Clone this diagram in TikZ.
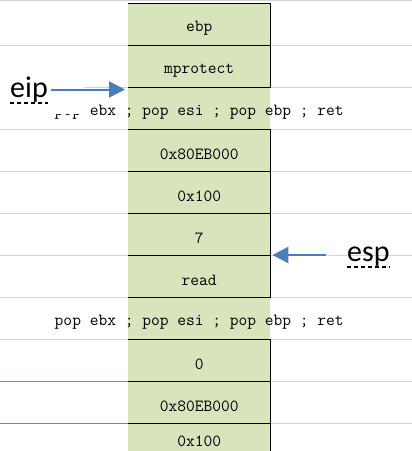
\documentclass[tikz,border=0pt]{standalone}
\usepackage{fontspec}
\usetikzlibrary{arrows.meta}
\newfontfamily\cellfont{Latin Modern Mono}
\newfontfamily\regfont{Carlito}
\definecolor{cellgreen}{HTML}{D8E4BC}
\definecolor{gridgray}{HTML}{D4D4D4}
\definecolor{gridolive}{HTML}{7F9258}
\definecolor{ptrblue}{HTML}{4A7EBB}
\def\gadget{pop ebx ; pop esi ; pop ebp ; ret}
\def\grid{\draw[gridgray,line width=1pt]}
\tikzset{
  cell/.style={fill=cellgreen,minimum width=142pt,minimum height=42pt,inner sep=0pt,anchor=north west},
  celltext/.style={font=\cellfont\fontsize{17}{20}\selectfont,yshift=-4pt},
  reg/.style={font=\regfont\fontsize{30}{36}\selectfont,inner sep=0pt,anchor=base west},
  squiggle/.style={black,line width=1.6pt,dash pattern=on 4pt off 3pt},
  ptr/.style={ptrblue,line width=2pt,-{Triangle[length=16pt,width=16pt]}},
  rim/.style={black,line width=1pt}
}

\begin{document}
\begin{tikzpicture}[x=1pt,y=-1pt]
    \useasboundingbox (0,0) rectangle (412,451);
    \clip (0,0) rectangle (412,451);
    % sheet grid
    \foreach \y in {0.5,45,87,129,171,213,255,297,339}
        \grid (0,\y) -- (412,\y);
    \draw[gridolive,line width=1pt] (0,381) -- (128,381) (0,423) -- (128,423);
    \grid (270,381) -- (412,381) (270,423) -- (412,423);
    % stack cells
    \foreach \i in {1,...,11}
        \node[cell] (c\i) at (128,{3+42*(\i-1)}) {};
    \foreach \i in {1,2,4,5,6,7,9,10,11}
        \draw[rim] (c\i.north west) -- (c\i.north east) -- (c\i.south east) -- (c\i.south west);
    \foreach \i/\txt in {1/ebp,2/mprotect,4/0x80EB000,5/0x100,6/7,7/read,9/0,10/0x80EB000}
        \node[celltext] (t\i) at (c\i) {\txt};
    \node[celltext,yshift=7pt] (t11) at (c11) {0x100};
    \node[celltext] (g3) at (c3) {\gadget};
    \node[celltext] (g8) at (c8) {\gadget};
    % registers
    \node[fill=white,inner sep=0pt,minimum width=84pt,minimum height=46pt,anchor=north west] (eipmask) at (0,68) {};
    \node[reg] (eip) at (10,97) {eip};
    \node[reg] (esp) at (347,261) {esp};
    \draw[squiggle] ([yshift=-6pt]eip.base west) -- ([yshift=-6pt]eip.base east);
    \draw[squiggle] ([yshift=-6pt]esp.base west) -- ([yshift=-6pt]esp.base east);
    \coordinate (eiptip) at (125,89.5);
    \coordinate (esptip) at ([xshift=2pt]c7.north east);
    \draw[ptr] ([xshift=3pt]eip.east |- eiptip) -- (eiptip);
    \draw[ptr] ([xshift=-21pt]esp.west |- esptip) -- (esptip);
\end{tikzpicture}
\end{document}
